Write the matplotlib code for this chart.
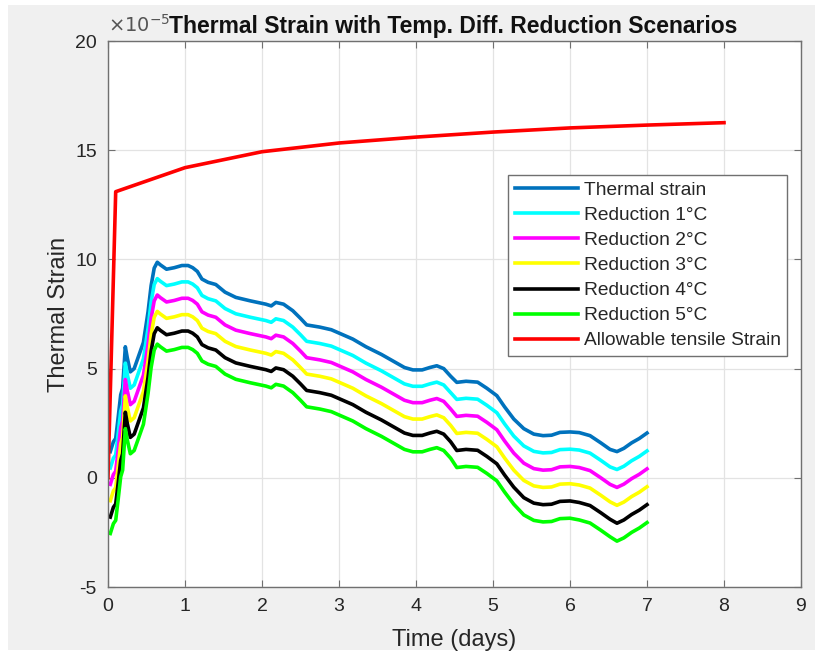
import matplotlib
matplotlib.use("Agg")
import matplotlib.pyplot as plt
from matplotlib.patches import Rectangle

plt.rcParams["font.family"] = ["Liberation Sans", "DejaVu Sans"]
plt.rcParams["axes.unicode_minus"] = False

# time axis shared by the thermal strain curves (days)
time_days = [0.03, 0.07, 0.10, 0.13, 0.165, 0.19, 0.225, 0.25, 0.29, 0.34,
             0.40, 0.46, 0.52, 0.56, 0.60, 0.64, 0.68, 0.76, 0.86, 0.96,
             1.04, 1.10, 1.16, 1.22, 1.30, 1.40, 1.52, 1.66, 1.85, 2.05,
             2.12, 2.18, 2.28, 2.40, 2.50, 2.58, 2.75, 2.90, 3.05, 3.18,
             3.35, 3.55, 3.70, 3.85, 3.96, 4.08, 4.18, 4.27, 4.36, 4.45,
             4.53, 4.65, 4.80, 4.92, 5.05, 5.15, 5.27, 5.40, 5.53, 5.65,
             5.76, 5.87, 6.00, 6.12, 6.26, 6.40, 6.52, 6.61, 6.70, 6.80,
             6.90, 7.00]

thermal = [1.2, 1.65, 1.8, 2.7, 3.8, 4.1, 6.0, 5.5, 4.85, 5.0,
           5.6, 6.2, 7.6, 8.8, 9.6, 9.87, 9.75, 9.55, 9.62, 9.72,
           9.72, 9.62, 9.45, 9.1, 8.95, 8.85, 8.5, 8.26, 8.1, 7.95,
           7.87, 8.03, 7.95, 7.65, 7.3, 7.0, 6.9, 6.78, 6.55, 6.35,
           6.0, 5.65, 5.35, 5.05, 4.94, 4.94, 5.05, 5.13, 5.0, 4.65,
           4.37, 4.42, 4.38, 4.1, 3.76, 3.25, 2.69, 2.25, 2.0, 1.93,
           1.95, 2.08, 2.1, 2.07, 1.93, 1.6, 1.3, 1.2, 1.35, 1.6,
           1.8, 2.05]

red_1 = [0.45, 0.9, 1.05, 1.95, 3.05, 3.35, 5.25, 4.75, 4.1, 4.25,
         4.85, 5.45, 6.85, 8.05, 8.85, 9.12, 9.0, 8.8, 8.87, 8.97,
         8.97, 8.87, 8.7, 8.35, 8.2, 8.1, 7.75, 7.51, 7.35, 7.2,
         7.12, 7.28, 7.2, 6.9, 6.55, 6.25, 6.15, 6.03, 5.8, 5.6,
         5.25, 4.9, 4.6, 4.3, 4.19, 4.19, 4.3, 4.38, 4.25, 3.9,
         3.59, 3.64, 3.6, 3.32, 2.98, 2.47, 1.91, 1.46, 1.21, 1.14,
         1.16, 1.29, 1.31, 1.27, 1.13, 0.8, 0.5, 0.38, 0.53, 0.78,
         0.98, 1.23]

red_2 = [-0.3, 0.15, 0.3, 1.2, 2.3, 2.6, 4.5, 4.0, 3.35, 3.5,
         4.1, 4.7, 6.1, 7.3, 8.1, 8.37, 8.25, 8.05, 8.12, 8.22,
         8.22, 8.12, 7.95, 7.6, 7.45, 7.35, 7.0, 6.76, 6.6, 6.45,
         6.37, 6.53, 6.45, 6.15, 5.8, 5.5, 5.4, 5.28, 5.05, 4.85,
         4.5, 4.15, 3.85, 3.55, 3.44, 3.44, 3.55, 3.63, 3.5, 3.15,
         2.81, 2.86, 2.82, 2.54, 2.2, 1.69, 1.13, 0.67, 0.42, 0.35,
         0.37, 0.5, 0.52, 0.47, 0.33, 0.0, -0.3, -0.44, -0.29, -0.04,
         0.16, 0.41]

red_3 = [-1.05, -0.6, -0.45, 0.45, 1.55, 1.85, 3.75, 3.25, 2.6, 2.75,
         3.35, 3.95, 5.35, 6.55, 7.35, 7.62, 7.5, 7.3, 7.37, 7.47,
         7.47, 7.37, 7.2, 6.85, 6.7, 6.6, 6.25, 6.01, 5.85, 5.7,
         5.62, 5.78, 5.7, 5.4, 5.05, 4.75, 4.65, 4.53, 4.3, 4.1,
         3.75, 3.4, 3.1, 2.8, 2.69, 2.69, 2.8, 2.88, 2.75, 2.4,
         2.03, 2.08, 2.04, 1.76, 1.42, 0.91, 0.35, -0.12, -0.37, -0.44,
         -0.42, -0.29, -0.27, -0.33, -0.47, -0.8, -1.1, -1.26, -1.11, -0.86,
         -0.66, -0.41]

red_4 = [-1.8, -1.35, -1.2, -0.3, 0.8, 1.1, 3.0, 2.5, 1.85, 2.0,
         2.6, 3.2, 4.6, 5.8, 6.6, 6.87, 6.75, 6.55, 6.62, 6.72,
         6.72, 6.62, 6.45, 6.1, 5.95, 5.85, 5.5, 5.26, 5.1, 4.95,
         4.87, 5.03, 4.95, 4.65, 4.3, 4.0, 3.9, 3.78, 3.55, 3.35,
         3.0, 2.65, 2.35, 2.05, 1.94, 1.94, 2.05, 2.13, 2.0, 1.65,
         1.25, 1.3, 1.26, 0.98, 0.64, 0.13, -0.43, -0.91, -1.16, -1.23,
         -1.21, -1.08, -1.06, -1.13, -1.27, -1.6, -1.9, -2.08, -1.93, -1.68,
         -1.48, -1.23]

red_5 = [-2.55, -2.1, -1.95, -1.05, 0.05, 0.35, 2.25, 1.75, 1.1, 1.25,
         1.85, 2.45, 3.85, 5.05, 5.85, 6.12, 6.0, 5.8, 5.87, 5.97,
         5.97, 5.87, 5.7, 5.35, 5.2, 5.1, 4.75, 4.51, 4.35, 4.2,
         4.12, 4.28, 4.2, 3.9, 3.55, 3.25, 3.15, 3.03, 2.8, 2.6,
         2.25, 1.9, 1.6, 1.3, 1.19, 1.19, 1.3, 1.38, 1.25, 0.9,
         0.47, 0.52, 0.48, 0.2, -0.14, -0.65, -1.21, -1.7, -1.95, -2.02,
         -2.0, -1.87, -1.85, -1.93, -2.07, -2.4, -2.7, -2.9, -2.75, -2.5,
         -2.3, -2.05]

allow_days = [0, 0.1, 1, 2, 3, 4, 5, 6, 7, 8]
allow_strain = [0, 13.1, 14.2, 14.93, 15.33, 15.6, 15.83, 16.02, 16.15, 16.26]

series = [
    ("Thermal strain", thermal, "#0072BD"),
    ("Reduction 1°C", red_1, "#00FFFF"),
    ("Reduction 2°C", red_2, "#FF00FF"),
    ("Reduction 3°C", red_3, "#FFFF00"),
    ("Reduction 4°C", red_4, "#000000"),
    ("Reduction 5°C", red_5, "#00FF00"),
]

text_c = "#262626"

fig = plt.figure(figsize=(8.24, 6.53), dpi=100, facecolor="white")
fig.patches.append(Rectangle((8 / 824, 3 / 653), 807 / 824, 645 / 653,
                             transform=fig.transFigure, facecolor="#f0f0f0",
                             edgecolor="none", zorder=-10))
ax = fig.add_axes([108 / 824, 1 - 587 / 653, 693 / 824, 546 / 653])
ax.set_facecolor("white")

for label, vals, color in series:
    ax.plot(time_days, vals, color=color, lw=2.6, label=label)
ax.plot(allow_days, allow_strain, color="#FF0000", lw=2.6,
        label="Allowable tensile Strain")

ax.set_xlim(0, 9)
ax.set_ylim(-5, 20)
ax.set_xticks(range(0, 10))
ax.set_yticks([-5, 0, 5, 10, 15, 20])
ax.grid(True, color="#e3e3e3", lw=0.9)
ax.set_axisbelow(True)
ax.tick_params(direction="in", length=5, width=0.8, top=True, right=True,
               labelsize=14, colors="#707070", labelcolor=text_c, pad=8)
for sp in ax.spines.values():
    sp.set_color("#707070")
    sp.set_linewidth(1.0)

ax.set_xlabel("Time (days)", fontsize=17, color=text_c, labelpad=10)
ax.set_ylabel("Thermal Strain", fontsize=17, color=text_c, labelpad=4)
ax.set_title("Thermal Strain with Temp. Diff. Reduction Scenarios",
             fontsize=16.5, fontweight="bold", color="#111111", pad=6, x=0.498)
ax.text(0.0, 1.01, r"$\times10^{-5}$", transform=ax.transAxes,
        fontsize=14, color="#555555", ha="left", va="bottom")

leg = ax.legend(loc="upper left", bbox_to_anchor=(0.577, 0.755), fontsize=13.8,
                handlelength=3.3, handletextpad=0.3, labelspacing=0.4,
                borderpad=0.35, borderaxespad=0, fancybox=False, framealpha=1)
leg.get_frame().set_edgecolor("#707070")
leg.get_frame().set_linewidth(1.0)
for t in leg.get_texts():
    t.set_color(text_c)

fig.savefig("out.png", dpi=100)
